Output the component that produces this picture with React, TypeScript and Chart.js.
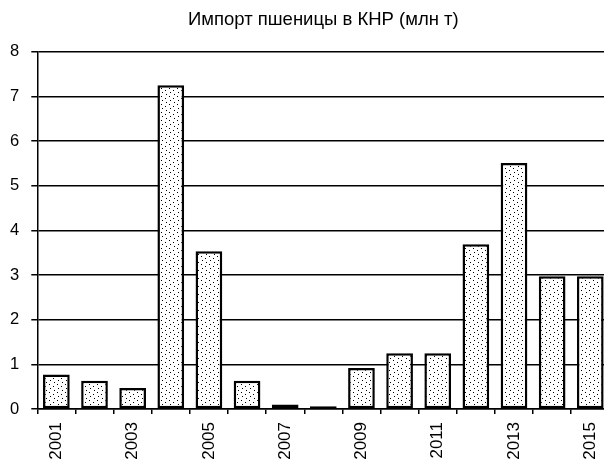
import { useEffect, useRef } from "react";
import { Chart, registerables } from "chart.js";

Chart.register(...registerables);

const chartTitle = "Импорт пшеницы в КНР (млн т)";
const years = ["2001", "2002", "2003", "2004", "2005", "2006", "2007", "2008", "2009", "2010", "2011", "2012", "2013", "2014", "2015"];
const wheatImports = [0.77, 0.63, 0.47, 7.25, 3.53, 0.63, 0.1, 0.06, 0.92, 1.25, 1.25, 3.69, 5.51, 2.97, 2.97];
const yMin = 0;
const yMax = 8;
const yStep = 1;

const FONT = "'Liberation Sans', Arial, sans-serif";

function makeDotPattern(): CanvasPattern | string {
  const c = document.createElement("canvas");
  c.width = 8;
  c.height = 8;
  const ctx = c.getContext("2d");
  if (!ctx) return "#fff";
  ctx.fillStyle = "#ffffff";
  ctx.fillRect(0, 0, 8, 8);
  ctx.fillStyle = "#000000";
  const dots = [
    [1, 0],
    [5, 2],
    [2, 4],
    [6, 6],
  ];
  dots.forEach(([x, y]) => ctx.fillRect(x, y, 1, 1));
  const p = ctx.createPattern(c, "repeat");
  return p || "#fff";
}

export default function App() {
  const ref = useRef<HTMLCanvasElement | null>(null);

  useEffect(() => {
    if (!ref.current) return;
    const pattern = makeDotPattern();
    const chart = new Chart(ref.current, {
      type: "bar",
      data: {
        labels: years,
        datasets: [
          {
            data: wheatImports,
            backgroundColor: pattern as any,
            borderColor: "#000",
            borderWidth: 2.5,
            borderSkipped: false,
            barPercentage: 0.7,
            categoryPercentage: 1,
          },
        ],
      },
      options: {
        responsive: false,
        animation: false,
        devicePixelRatio: 1,
        layout: { padding: 0 },
        plugins: {
          legend: { display: false },
          tooltip: { enabled: false },
          title: {
            display: true,
            text: chartTitle,
            fullSize: false,
            color: "#000",
            font: { family: FONT, size: 18.5, weight: "normal" as any, lineHeight: 1.2 },
            padding: { top: 9, bottom: 20.5 },
          },
        },
        scales: {
          x: {
            type: "category",
            offset: true,
            grid: {
              offset: true,
              drawOnChartArea: false,
              drawTicks: true,
              tickLength: 5,
              color: "#000",
              lineWidth: 1.5,
            },
            border: { display: true, color: "#000", width: 1.5 },
            ticks: {
              autoSkip: false,
              maxRotation: 90,
              minRotation: 90,
              padding: 8,
              color: "#000",
              font: { family: FONT, size: 17 },
              callback: (_v: any, i: number) => (i % 2 === 0 ? years[i] : ""),
            },
            afterFit: (s: any) => {
              s.height = 59;
            },
          },
          y: {
            min: yMin,
            max: yMax,
            grid: {
              color: "#000",
              lineWidth: 1.5,
              drawTicks: true,
              tickLength: 6,
            },
            border: { display: true, color: "#000", width: 1.5 },
            ticks: {
              stepSize: yStep,
              padding: 12,
              color: "#000",
              font: { family: FONT, size: 16.5 },
            },
            afterFit: (s: any) => {
              s.width = 37.3;
            },
          },
        },
      },
    });
    return () => chart.destroy();
  }, []);

  return (
    <div
      style={{
        position: "absolute",
        left: 0,
        top: 0,
        width: 604,
        height: 468,
        overflow: "hidden",
        background: "#fff",
      }}
    >
      <canvas ref={ref} width={619} height={468} style={{ display: "block" }} />
    </div>
  );
}
